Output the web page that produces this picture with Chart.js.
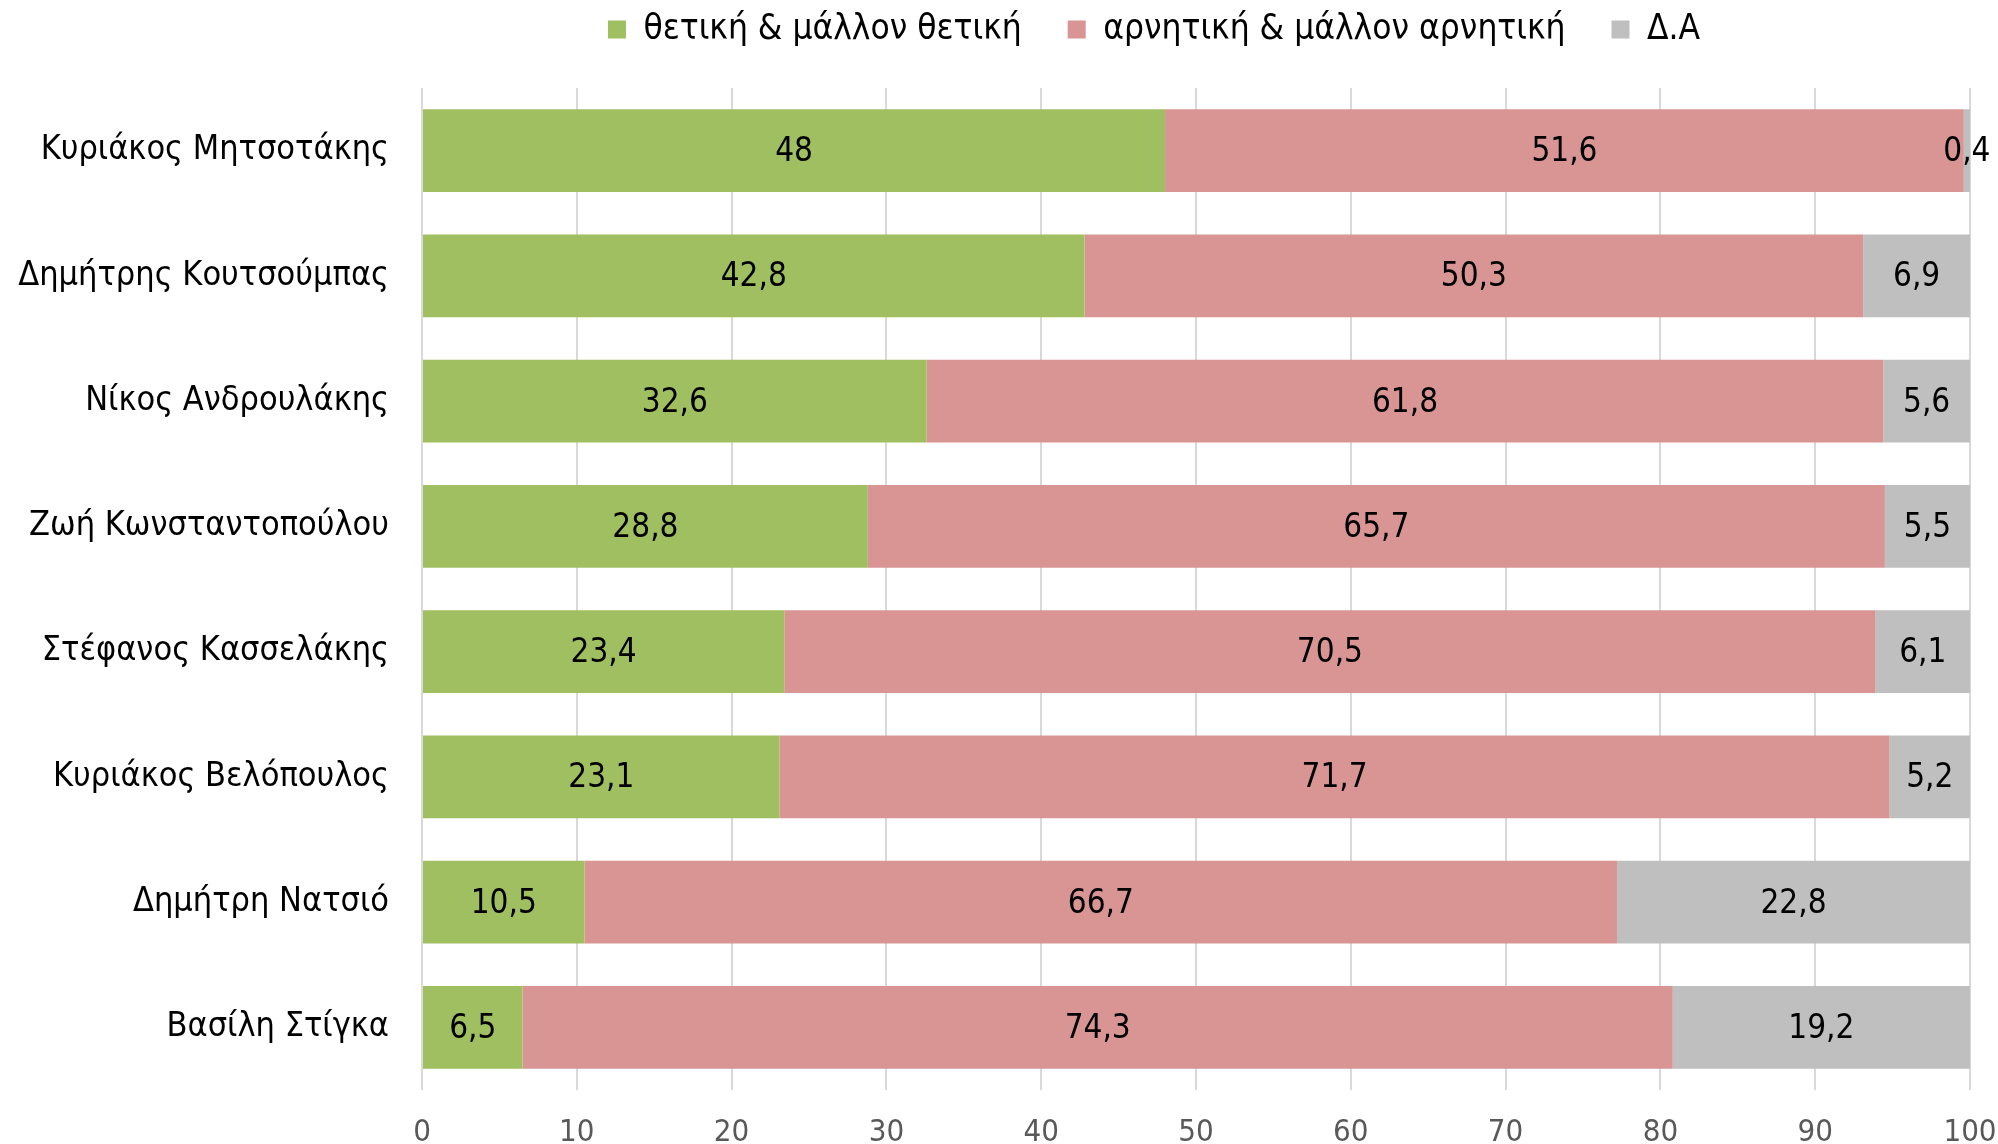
<!DOCTYPE html>
<html>
<head>
<meta charset="utf-8">
<script src="https://cdn.jsdelivr.net/npm/chart.js@4.4.1/dist/chart.umd.min.js"></script>
<style>
html,body{margin:0;padding:0;background:#fff;}
#wrap{width:1998px;height:1144px;position:relative;}
</style>
</head>
<body>
<div id="wrap"><canvas id="c" width="1998" height="1144"></canvas></div>
<script>
const categories = ["Κυριάκος Μητσοτάκης","Δημήτρης Κουτσούμπας","Νίκος Ανδρουλάκης","Ζωή Κωνσταντοπούλου","Στέφανος Κασσελάκης","Κυριάκος Βελόπουλος","Δημήτρη Νατσιό","Βασίλη Στίγκα"];
const positive = [48, 42.8, 32.6, 28.8, 23.4, 23.1, 10.5, 6.5];
const negative = [51.6, 50.3, 61.8, 65.7, 70.5, 71.7, 66.7, 74.3];
const noAnswer = [0.4, 6.9, 5.6, 5.5, 6.1, 5.2, 22.8, 19.2];
const seriesNames = ["θετική & μάλλον θετική","αρνητική & μάλλον αρνητική","Δ.Α"];
const xTicks = [0,10,20,30,40,50,60,70,80,90,100];

const FONT = '"Liberation Sans Narrow","DejaVu Sans Condensed","Noto Sans",sans-serif';

const dataLabels = {
  id:'dataLabels',
  afterDatasetsDraw(chart){
    const ctx = chart.ctx;
    ctx.save();
    ctx.font = '33px ' + FONT;
    ctx.fillStyle = '#000';
    ctx.textAlign = 'center';
    ctx.textBaseline = 'middle';
    chart.data.datasets.forEach((ds, di) => {
      const meta = chart.getDatasetMeta(di);
      meta.data.forEach((bar, i) => {
        const v = ds.data[i];
        const cx = (bar.x + bar.base) / 2;
        ctx.fillText(String(v).replace('.', ','), cx, bar.y + 2);
      });
    });
    ctx.restore();
  }
};

const fixLayout = {
  id:'fixLayout',
  beforeInit(chart){
    const lg = chart.legend;
    const origFit = lg.fit;
    lg.fit = function(){ origFit.call(this); this.height = 88; };
  },
  afterLayout(chart){
    const lg = chart.legend;
    lg.left = 310; lg.right = 1998; lg.width = 1688;
    lg.top = -34; lg.bottom = 54;
  }
};

new Chart(document.getElementById('c'), {
  type:'bar',
  data:{
    labels: categories,
    datasets:[
      {label: seriesNames[0], data: positive, backgroundColor:'#9FBF60'},
      {label: seriesNames[1], data: negative, backgroundColor:'#D99594'},
      {label: seriesNames[2], data: noAnswer, backgroundColor:'#BFBFBF'}
    ]
  },
  options:{
    indexAxis:'y',
    responsive:false,
    animation:false,
    layout:{padding:{left:0, top:0, bottom:0, right:28}},
    datasets:{bar:{categoryPercentage:0.66, barPercentage:1}},
    plugins:{
      legend:{
        position:'top',
        labels:{
          font:{family:FONT, size:35},
          color:'#000',
          boxWidth:18, boxHeight:18,
          padding:46
        }
      },
      tooltip:{enabled:false}
    },
    scales:{
      x:{
        stacked:true, min:0, max:100,
        afterBuildTicks(s){ s.ticks = xTicks.map(v=>({value:v})); },
        afterFit(s){ s.height = 54; s.paddingRight = 0; s.paddingLeft = 0; },
        grid:{color:'#D9D9D9', lineWidth:2, drawTicks:false},
        border:{display:false},
        ticks:{font:{family:FONT, size:31}, color:'#595959', padding:24, maxRotation:0}
      },
      y:{
        stacked:true,
        afterFit(s){ s.width = 422; },
        grid:{display:false, drawTicks:false},
        border:{display:false},
        ticks:{font:{family:FONT, size:34}, color:'#000', padding:33}
      }
    }
  },
  plugins:[dataLabels, fixLayout]
});
</script>
</body>
</html>
